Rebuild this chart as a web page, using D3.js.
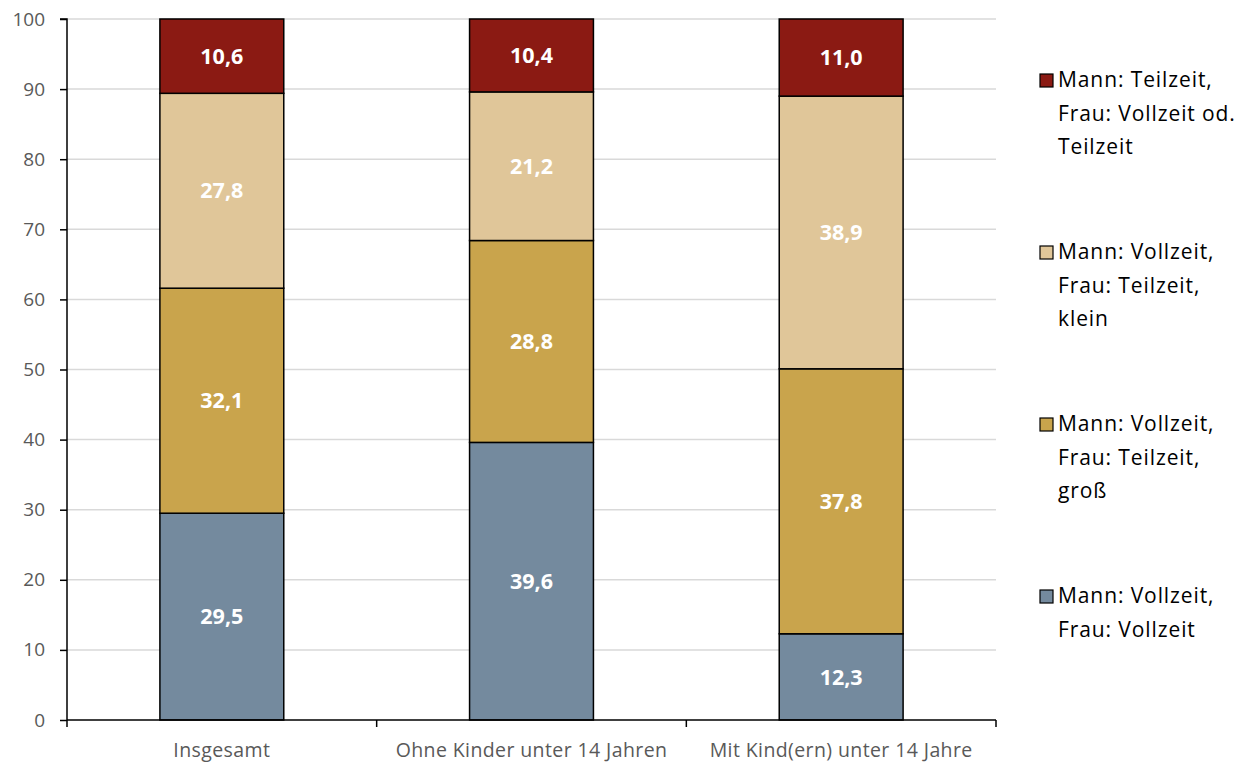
<!DOCTYPE html>
<html><head><meta charset="utf-8">
<script src="https://cdn.jsdelivr.net/npm/d3@7"></script>
<style>body{margin:0;background:#fff}svg{display:block}</style>
</head><body>
<svg id="c" width="1250" height="762"></svg>
<script>
const categories = ["Insgesamt", "Ohne Kinder unter 14 Jahren", "Mit Kind(ern) unter 14 Jahre"];
const seriesNames = ["Mann: Vollzeit, Frau: Vollzeit", "Mann: Vollzeit, Frau: Teilzeit, groß", "Mann: Vollzeit, Frau: Teilzeit, klein", "Mann: Teilzeit, Frau: Vollzeit od. Teilzeit"];
const vollVoll = [29.5, 39.6, 12.3];
const vollTeilGross = [32.1, 28.8, 37.8];
const vollTeilKlein = [27.8, 21.2, 38.9];
const teilzeitMann = [10.6, 10.4, 11.0];
const yTicks = [0,10,20,30,40,50,60,70,80,90,100];
const legendLines = [
  ["Mann: Teilzeit,", "Frau: Vollzeit od.", "Teilzeit"],
  ["Mann: Vollzeit,", "Frau: Teilzeit,", "klein"],
  ["Mann: Vollzeit,", "Frau: Teilzeit,", "groß"],
  ["Mann: Vollzeit,", "Frau: Vollzeit"]
];
const colors = ["#748a9e", "#c9a44c", "#e0c699", "#8b1a13"];
const font = "'Open Sans', sans-serif";

const svg = d3.select("#c");
const m = {l:67, r:996, t:19, b:720};
const x = d3.scaleBand().domain(categories).range([m.l, m.r]).paddingInner(0.6).paddingOuter(0.3);
const xb = d3.scaleBand().domain(categories).range([m.l, m.r]);
const y = d3.scaleLinear().domain([0,100]).range([m.b, m.t]);

// gridlines
svg.append("g").selectAll("line").data(yTicks.filter(d=>d>0)).join("line")
  .attr("x1", m.l).attr("x2", m.r).attr("y1", d=>y(d)).attr("y2", d=>y(d))
  .attr("stroke", "#d9d9d9").attr("stroke-width", 1.5);

const series = [vollVoll, vollTeilGross, vollTeilKlein, teilzeitMann];
const table = categories.map((c,i)=>{const o={cat:c}; series.forEach((s,j)=>o["s"+j]=s[i]); return o;});
const stack = d3.stack().keys(series.map((s,j)=>"s"+j))(table);

const g = svg.append("g");
stack.forEach((layer,j)=>{
  g.selectAll(null).data(layer).join("rect")
    .attr("x", d=>x(d.data.cat)).attr("width", x.bandwidth())
    .attr("y", d=>y(d[1])).attr("height", d=>y(d[0])-y(d[1]))
    .attr("fill", colors[j]).attr("stroke", "#000").attr("stroke-width", 1.5);
  g.selectAll(null).data(layer).join("text")
    .attr("x", d=>x(d.data.cat)+x.bandwidth()/2).attr("y", d=>y((d[0]+d[1])/2))
    .attr("dy", "0.36em").attr("text-anchor", "middle")
    .attr("font-family", font).attr("font-weight", "bold").attr("font-size", 21.5)
    .attr("fill", "#fff").text(d=>(d[1]-d[0]).toFixed(1).replace(".", ","));
});

// y axis
const ya = svg.append("g").attr("transform", `translate(${m.l},0)`)
  .call(d3.axisLeft(y).tickValues(yTicks).tickSize(7).tickPadding(15));
ya.select(".domain").attr("stroke", "#000").attr("stroke-width", 1.5).attr("d", `M-7,${m.t}H0V${m.b}`);
ya.selectAll(".tick line").attr("stroke", "#000").attr("stroke-width", 1.5);
ya.selectAll(".tick text").attr("font-family", font).attr("font-size", 19).attr("fill", "#595959");

// x axis
const xa = svg.append("g").attr("transform", `translate(0,${m.b})`)
  .call(d3.axisBottom(x).tickSize(0).tickPadding(23));
xa.select(".domain").attr("stroke", "#000").attr("stroke-width", 1.5).attr("d", `M${m.l},0H${m.r}`);
xa.selectAll(".tick text").attr("font-family", font).attr("font-size", 19.5)
  .attr("letter-spacing", "0.4px").attr("fill", "#595959");
const bounds = categories.map(c=>xb(c)).concat([m.r]);
svg.append("g").selectAll("line").data(bounds).join("line")
  .attr("x1", d=>d).attr("x2", d=>d).attr("y1", m.b).attr("y2", m.b+7)
  .attr("stroke", "#000").attr("stroke-width", 1.5);

// legend
const lg = svg.append("g");
const lx = 1040, ly0 = 80, lstep = 172, lh = 33.5;
legendLines.forEach((lines,i)=>{
  const yy = ly0 + i*lstep;
  lg.append("rect").attr("x", lx).attr("y", yy-6).attr("width", 13).attr("height", 13)
    .attr("fill", colors[3-i]).attr("stroke", "#000").attr("stroke-width", 1.2);
  const t = lg.append("text").attr("font-family", font).attr("font-size", 21)
    .attr("letter-spacing", "0.9px").attr("fill", "#000");
  lines.forEach((ln,k)=>t.append("tspan").attr("x", lx+18).attr("y", yy+k*lh).attr("dy","0.35em").text(ln));
});
</script>
</body></html>
